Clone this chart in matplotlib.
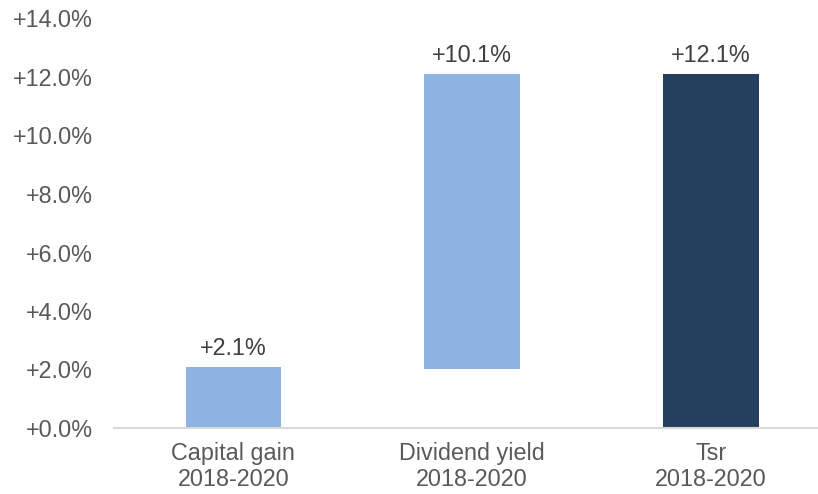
import matplotlib.pyplot as plt
import numpy as np

plt.rcParams["font.family"] = ["Liberation Sans", "DejaVu Sans"]

# Data
categories = ["Capital gain\n2018-2020", "Dividend yield\n2018-2020", "Tsr\n2018-2020"]
capital_gain = 2.1
dividend_yield = 10.1
tsr = 12.1
yticks = np.arange(0, 15, 2)

values = [capital_gain, dividend_yield, tsr]
bottoms = [0, tsr - dividend_yield, 0]
colors = ["#8db3e2", "#8db3e2", "#253f5f"]
text_color = "#595959"
fs = 16.8

fig = plt.figure(figsize=(8.18, 4.94), dpi=100)
ax = fig.add_axes([114 / 818, 1 - 428 / 494, (818 - 114) / 818, (428 - 18.5) / 494])

x = np.arange(len(categories))
ax.bar(x, values, bottom=bottoms, width=0.40, color=colors)

for xi, v, b in zip(x, values, bottoms):
    ax.annotate(f"+{v:.1f}%", (xi, b + v), xytext=(0, 5), textcoords="offset points",
                ha="center", va="bottom", fontsize=fs, color="#404040")

ax.set_xlim(-0.5, 2.448)
ax.set_ylim(0, 14)
ax.set_yticks(yticks)
ax.set_yticklabels([f"+{t:.1f}%" for t in yticks])
ax.set_xticks(x)
ax.set_xticklabels(categories)
ax.tick_params(axis="y", length=0, pad=15, labelsize=fs, labelcolor=text_color)
ax.tick_params(axis="x", length=0, pad=10, labelsize=fs, labelcolor=text_color)

for s in ["top", "right", "left"]:
    ax.spines[s].set_visible(False)
ax.spines["bottom"].set_color("#d9d9d9")
ax.spines["bottom"].set_linewidth(1.5)

plt.savefig("out.png", dpi=100)
